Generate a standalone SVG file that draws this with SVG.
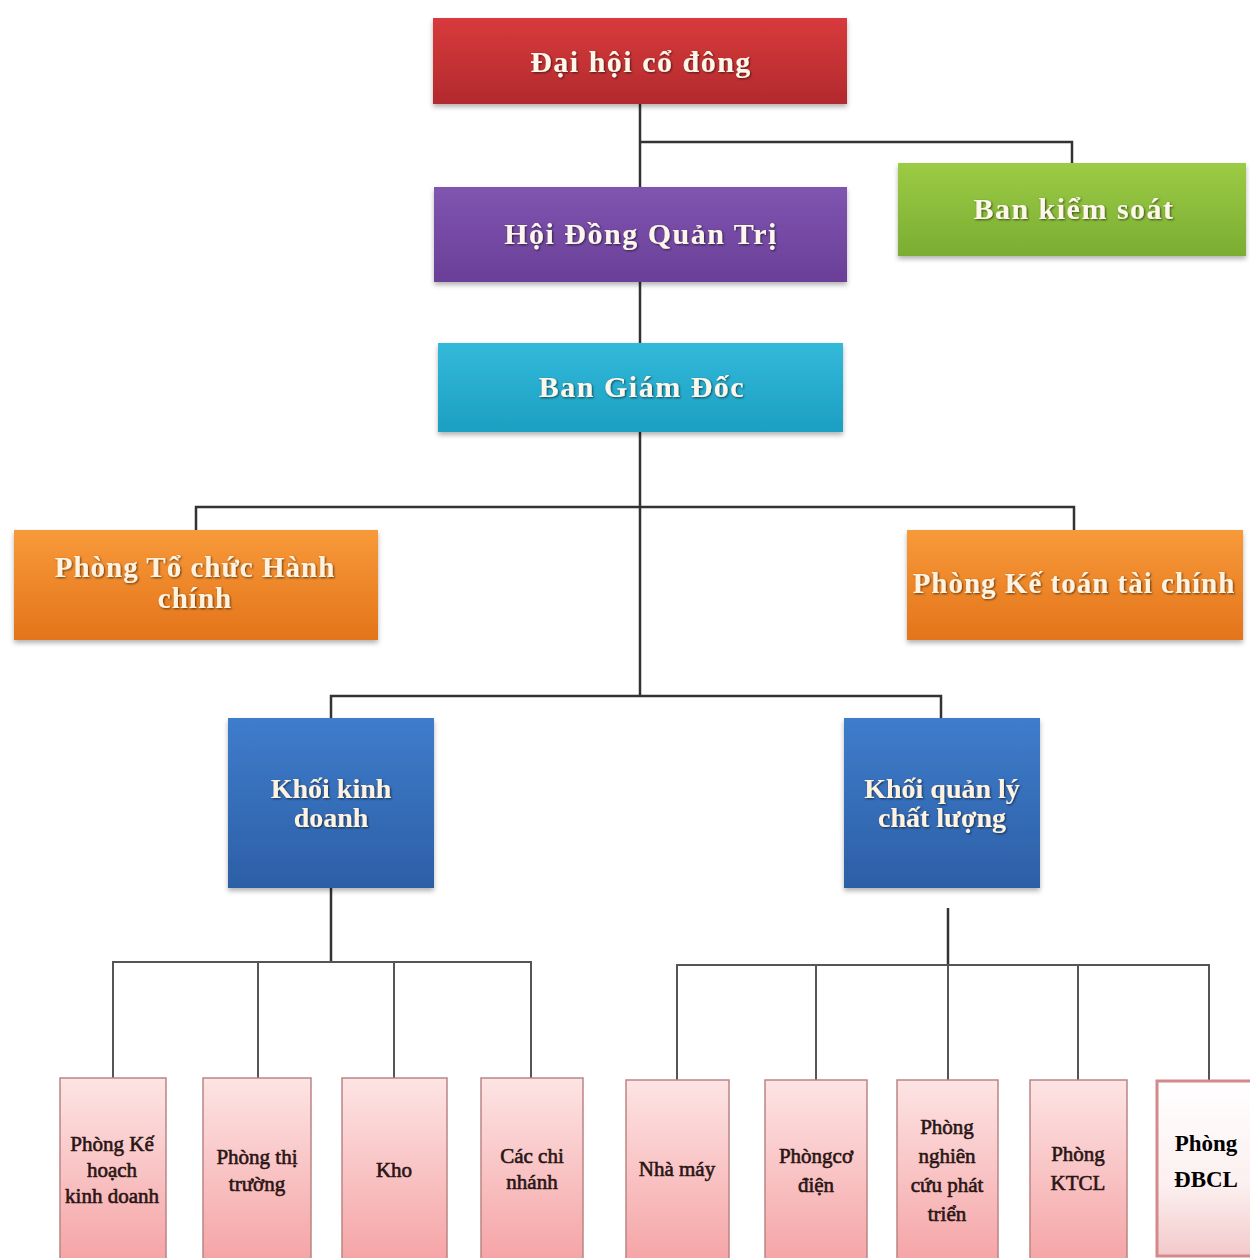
<svg xmlns="http://www.w3.org/2000/svg" width="1250" height="1258" viewBox="0 0 1250 1258">
<defs>
<linearGradient id="gRed" x1="0" y1="0" x2="0" y2="1"><stop offset="0" stop-color="#d83a3c"/><stop offset="1" stop-color="#b22a2d"/></linearGradient>
<linearGradient id="gPur" x1="0" y1="0" x2="0" y2="1"><stop offset="0" stop-color="#7f55b0"/><stop offset="1" stop-color="#6a3f98"/></linearGradient>
<linearGradient id="gGrn" x1="0" y1="0" x2="0" y2="1"><stop offset="0" stop-color="#9ccb45"/><stop offset="1" stop-color="#7aad32"/></linearGradient>
<linearGradient id="gCyan" x1="0" y1="0" x2="0" y2="1"><stop offset="0" stop-color="#33b9da"/><stop offset="1" stop-color="#1c9fc2"/></linearGradient>
<linearGradient id="gOrg" x1="0" y1="0" x2="0" y2="1"><stop offset="0" stop-color="#f89a3a"/><stop offset="1" stop-color="#e3741a"/></linearGradient>
<linearGradient id="gBlu" x1="0" y1="0" x2="0" y2="1"><stop offset="0" stop-color="#3f7ccc"/><stop offset="1" stop-color="#2c5fa6"/></linearGradient>
<linearGradient id="gPink" x1="0" y1="0" x2="0" y2="1"><stop offset="0" stop-color="#fde4e4"/><stop offset="1" stop-color="#f5a3a5"/></linearGradient>
<linearGradient id="gWht" x1="0" y1="0" x2="0" y2="1"><stop offset="0" stop-color="#ffffff"/><stop offset="0.6" stop-color="#fcefef"/><stop offset="1" stop-color="#f3c9ca"/></linearGradient>
<filter id="sh" x="-10%" y="-10%" width="120%" height="130%"><feDropShadow dx="0" dy="3" stdDeviation="2.5" flood-color="#000" flood-opacity="0.3"/></filter>
<filter id="tsh" x="-5%" y="-20%" width="110%" height="140%"><feDropShadow dx="1" dy="1" stdDeviation="0.8" flood-color="#000" flood-opacity="0.6"/></filter>
</defs>
<style>
.top{font-family:"Liberation Serif","DejaVu Serif",serif;font-weight:bold;font-size:30px;letter-spacing:1.5px;fill:#fdf6ea;text-anchor:middle}
.mid{font-family:"Liberation Serif","DejaVu Serif",serif;font-weight:bold;font-size:29px;letter-spacing:1px;fill:#fdf3e0;text-anchor:middle}
.blu{font-family:"Liberation Serif","DejaVu Serif",serif;font-weight:bold;font-size:28px;fill:#fdf3e0;text-anchor:middle}
.sm{font-family:"Liberation Serif","DejaVu Serif",serif;font-size:21px;fill:#2a1515;text-anchor:middle;stroke:#2a1515;stroke-width:0.6}
.dbcl{font-family:"Liberation Serif","DejaVu Serif",serif;font-weight:bold;font-size:23px;fill:#000;text-anchor:middle}
.pink{fill:url(#gPink);stroke:#b98584;stroke-width:1.5}
.ln{fill:none;stroke:#333;stroke-width:2.5}
.ln2{fill:none;stroke:#555;stroke-width:2}
</style>
<g id="connectors">
<path class="ln" d="M640 104V187M640 142H1072V163M640 282V343M640 432V696M196 530V507H1074V530M331 718V696H941V718"/>
<path class="ln" d="M331 888V962"/>
<path class="ln2" d="M113 1078V962H531V1078M258 962V1078M394 962V1078"/>
<path class="ln" d="M948 908V965"/>
<path class="ln2" d="M677 1080V965H1209V1080M816 965V1080M948 965V1080M1078 965V1080"/>
</g>
<g id="n-daihoi"><rect x="433" y="18" width="414" height="86" fill="url(#gRed)" filter="url(#sh)"/><text class="top" x="641" y="72" filter="url(#tsh)">Đại hội cổ đông</text></g>
<g id="n-hdqt"><rect x="434" y="187" width="413" height="95" fill="url(#gPur)" filter="url(#sh)"/><text class="top" x="641" y="244" filter="url(#tsh)">Hội Đồng Quản Trị</text></g>
<g id="n-bks"><rect x="898" y="163" width="348" height="93" fill="url(#gGrn)" filter="url(#sh)"/><text class="top" x="1074" y="219" filter="url(#tsh)">Ban kiểm soát</text></g>
<g id="n-bgd"><rect x="438" y="343" width="405" height="89" fill="url(#gCyan)" filter="url(#sh)"/><text class="top" x="642" y="397" filter="url(#tsh)">Ban Giám Đốc</text></g>
<g id="n-tchc"><rect x="14" y="530" width="364" height="110" fill="url(#gOrg)" filter="url(#sh)"/><text class="mid" x="195" y="577" filter="url(#tsh)">Phòng Tổ chức Hành</text><text class="mid" x="195" y="608" filter="url(#tsh)">chính</text></g>
<g id="n-ktc"><rect x="907" y="530" width="336" height="110" fill="url(#gOrg)" filter="url(#sh)"/><text class="mid" x="1074" y="593" filter="url(#tsh)">Phòng Kế toán tài chính</text></g>
<g id="n-kkd"><rect x="228" y="718" width="206" height="170" fill="url(#gBlu)" filter="url(#sh)"/><text class="blu" x="331" y="798" filter="url(#tsh)">Khối kinh</text><text class="blu" x="331" y="827" filter="url(#tsh)">doanh</text></g>
<g id="n-kql"><rect x="844" y="718" width="196" height="170" fill="url(#gBlu)" filter="url(#sh)"/><text class="blu" x="942" y="798" filter="url(#tsh)">Khối quản lý</text><text class="blu" x="942" y="827" filter="url(#tsh)">chất lượng</text></g>
<g id="n-khkd"><rect class="pink" x="60" y="1078" width="106" height="185"/><text class="sm" x="112" y="1151">Phòng Kế</text><text class="sm" x="112" y="1177">hoạch</text><text class="sm" x="112" y="1203">kinh doanh</text></g>
<g id="n-ptt"><rect class="pink" x="203" y="1078" width="108" height="185"/><text class="sm" x="257" y="1164">Phòng thị</text><text class="sm" x="257" y="1191">trường</text></g>
<g id="n-kho"><rect class="pink" x="342" y="1078" width="105" height="185"/><text class="sm" x="394" y="1177">Kho</text></g>
<g id="n-ccn"><rect class="pink" x="481" y="1078" width="102" height="185"/><text class="sm" x="532" y="1163">Các chi</text><text class="sm" x="532" y="1189">nhánh</text></g>
<g id="n-nm"><rect class="pink" x="626" y="1080" width="103" height="185"/><text class="sm" x="677" y="1176">Nhà máy</text></g>
<g id="n-pcd"><rect class="pink" x="765" y="1080" width="102" height="185"/><text class="sm" x="816" y="1163">Phòngcơ</text><text class="sm" x="816" y="1192">điện</text></g>
<g id="n-nc"><rect class="pink" x="897" y="1080" width="101" height="185"/><text class="sm" x="947" y="1134">Phòng</text><text class="sm" x="947" y="1163">nghiên</text><text class="sm" x="947" y="1192">cứu phát</text><text class="sm" x="947" y="1221">triển</text></g>
<g id="n-ktcl"><rect class="pink" x="1030" y="1080" width="97" height="185"/><text class="sm" x="1078" y="1161">Phòng</text><text class="sm" x="1078" y="1190">KTCL</text></g>
<g id="n-dbcl"><rect x="1157" y="1081" width="100" height="175" fill="url(#gWht)" stroke="#d48a8c" stroke-width="3"/><text class="dbcl" x="1206" y="1151">Phòng</text><text class="dbcl" x="1206" y="1187">ĐBCL</text></g>
</svg>
